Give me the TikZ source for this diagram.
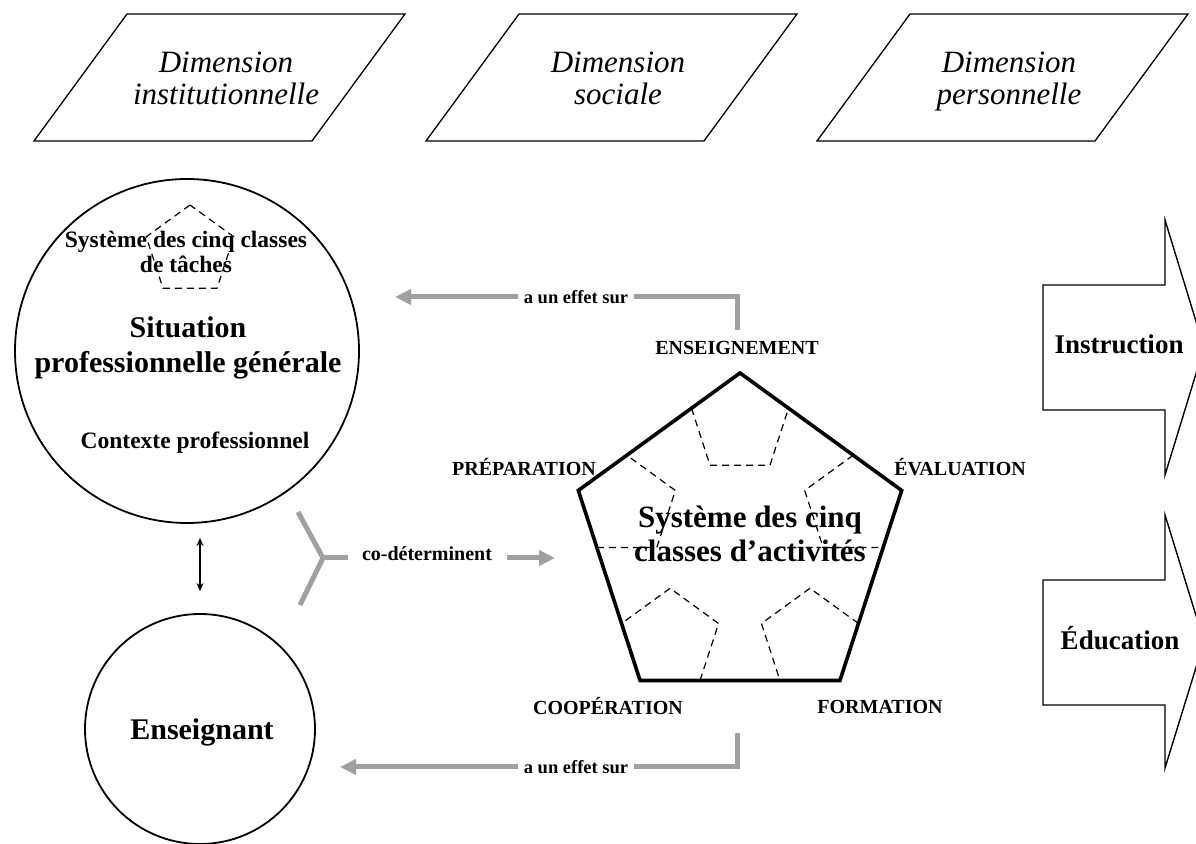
\documentclass[tikz,border=0pt]{standalone}
\usepackage{fontspec}
\setmainfont{Liberation Serif}
\usetikzlibrary{arrows.meta,calc}
\definecolor{linegray}{RGB}{160,160,160}
\tikzset{
  dimbox/.style={line width=1.3pt},
  dimtxt/.style={font=\fontsize{31}{32}\selectfont\itshape,align=center},
  bigtxt/.style={font=\fontsize{30}{35}\selectfont\bfseries,align=center},
  midtxt/.style={font=\fontsize{23.5}{25}\selectfont\bfseries,align=center},
  outtxt/.style={font=\fontsize{27}{30}\selectfont\bfseries},
  lbl/.style={font=\fontsize{20}{22}\selectfont\bfseries,inner sep=0pt},
  note/.style={font=\fontsize{18.5}{20}\selectfont\bfseries,fill=white,inner sep=6pt},
  circ/.style={draw,circle,line width=1.8pt,inner sep=0pt},
  dpent/.style={line width=1.2pt,dash pattern=on 7pt off 5pt},
  actpent/.style={line width=3.6pt,line join=miter},
  outarrow/.style={line width=1.4pt,line join=miter},
  gline/.style={draw=linegray,line width=5pt},
  garrow/.style={gline,-{Triangle[length=16pt,width=15pt]}},
  dblarrow/.style={line width=1.3pt,{Stealth[length=8pt,width=7pt]}-{Stealth[length=8pt,width=7pt]}}
}
\begin{document}
\begin{tikzpicture}[x=1pt,y=1pt]
  \useasboundingbox (0,0) rectangle (1196,843);
  % the three dimensions
  \foreach \x/\t/\n in {220/institutionnelle/dinst,612/sociale/dsoc,1003/personnelle/dpers}{
    \draw[dimbox] (\x-186,702) -- (\x+92,702) -- (\x+185,829) -- (\x-93,829) -- cycle;
    \node[dimtxt] (\n) at (\x+6,761) {\strut Dimension\\\strut\t};
  }
  % situation and teacher
  \node[circ,minimum size=344pt] (sit) at (187,492) {};
  \coordinate (tc) at (190,592);
  \draw[dpent] ($(tc)+(90:46)$) \foreach \a in {162,234,306,18}{ -- ($(tc)+(\a:46)$)} -- cycle;
  \node[midtxt] (taches) at (186,591) {Système des cinq classes\\de tâches};
  \node[bigtxt] (sittxt) at (188,495) {Situation\\professionnelle générale};
  \node[midtxt] (ctx) at (195,400) {Contexte professionnel};
  \node[circ,minimum size=230pt] (ens) at (200,114) {};
  \node[bigtxt] (enstxt) at (202,111) {Enseignant};
  \draw[dblarrow] ([yshift=22pt]ens.north) -- ([yshift=-14pt]ens.north |- sit.south);
  % co-determination
  \coordinate (fk) at (323,285);
  \coordinate (f1) at (298,331);
  \coordinate (f2) at (300,238);
  \coordinate (f3) at (348,285);
  \draw[gline] (f1) -- (fk) -- (f2);
  \draw[gline] (fk) -- (f3);
  \node[lbl] (cod) at (427,289) {co-déterminent};
  \coordinate (c1) at (507,285);
  \coordinate (c2) at (555,285);
  \draw[garrow] (c1) -- (c2);
  % system of activities
  \coordinate (ac) at (740,300);
  \foreach \i in {0,...,4}
    \coordinate (v\i) at ($(ac)+(90+72*\i:170)$);
  \foreach \i in {0,...,4}
    \draw[dpent] ($(v\i)!0.3!(v0)$) -- ($(v\i)!0.3!(v1)$) -- ($(v\i)!0.3!(v2)$)
      -- ($(v\i)!0.3!(v3)$) -- ($(v\i)!0.3!(v4)$) -- cycle;
  \draw[actpent] (v0) -- (v1) -- (v2) -- (v3) -- (v4) -- cycle;
  \node[bigtxt,font=\fontsize{31}{34}\selectfont\bfseries] (acttxt) at (750,309) {Système des cinq\\classes d’activités};
  \node[lbl] (lens) at (737,495) {ENSEIGNEMENT};
  \node[lbl] (lprep) at (524,376) {PRÉPARATION};
  \node[lbl] (leval) at (960,376) {ÉVALUATION};
  \node[lbl] (lcoop) at (608,137) {COOPÉRATION};
  \node[lbl] (lform) at (880,136) {FORMATION};
  % effects
  \coordinate (e1) at (737,513);
  \coordinate (e2) at (395,546);
  \draw[garrow] (e1) |- (e2);
  \node[note] (eff1) at (576,546) {a un effet sur};
  \coordinate (e3) at (737,110);
  \coordinate (e4) at (340,76);
  \draw[garrow] (e3) |- (e4);
  \node[note] (eff2) at (576,76) {a un effet sur};
  % outcomes
  \draw[outarrow] (1043,433) -- (1165,433) -- (1165,368) -- (1204,495.5)
    -- (1165,623) -- (1165,558) -- (1043,558) -- cycle;
  \node[outtxt] (instr) at (1119,499) {Instruction};
  \draw[outarrow] (1043,138) -- (1165,138) -- (1165,75) -- (1204,201.5)
    -- (1165,328) -- (1165,263) -- (1043,263) -- cycle;
  \node[outtxt] (educ) at (1120,205) {Éducation};
\end{tikzpicture}
\end{document}
